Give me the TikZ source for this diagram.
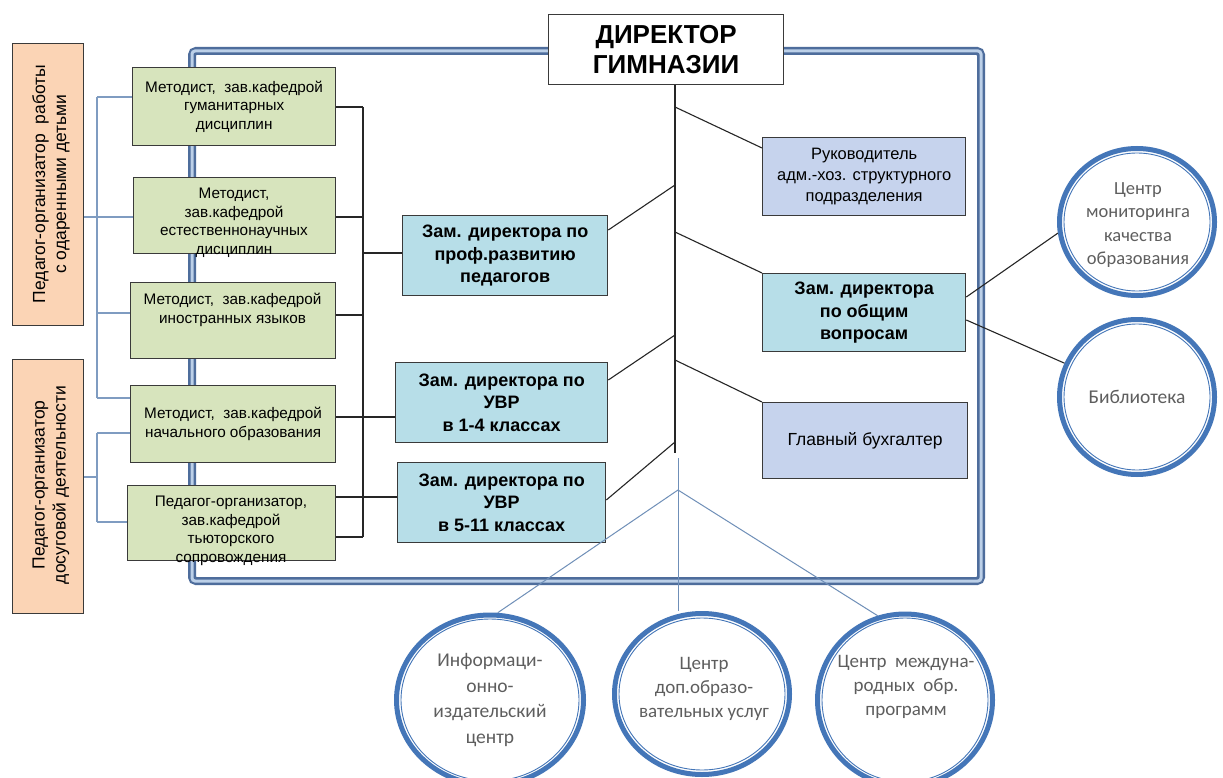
\documentclass[tikz,border=0pt]{standalone}
\usepackage{fontspec}
\setmainfont{Liberation Sans}
\newfontfamily\carl{Carlito}
\usetikzlibrary{shapes.geometric}
\definecolor{greenF}{HTML}{D7E4BD}
\definecolor{blueF}{HTML}{B7DEE8}
\definecolor{lavF}{HTML}{C6D3ED}
\definecolor{orangeF}{HTML}{FBD4B5}
\definecolor{frameD}{HTML}{4E6D9C}
\definecolor{frameL}{HTML}{BCD0E8}
\definecolor{circB}{HTML}{4476B8}
\definecolor{leftL}{HTML}{7F9CC1}
\definecolor{botL}{HTML}{6F8FB8}
\definecolor{boxL}{HTML}{3A3A3A}
\definecolor{circT}{HTML}{5E5E5E}
\begin{document}
\begin{tikzpicture}[x=1pt,y=-1pt,
  box/.style={draw=boxL, line width=1.3pt, inner sep=0pt, anchor=north west, align=center},
  gbox/.style={box, fill=greenF, font=\fontsize{15.3}{18.5}\selectfont},
  cbox/.style={box, fill=blueF, font=\bfseries\fontsize{18}{22.5}\selectfont},
  rbox/.style={box, fill=lavF, font=\fontsize{16.5}{21}\selectfont},
  obox/.style={box, fill=orangeF},
  otext/.style={rotate=90, align=center, font=\fontsize{17.5}{21}\selectfont},
  gtext/.style={align=center, inner sep=0pt, font=\fontsize{15.3}{18.5}\selectfont},
  ctext/.style={align=center, inner sep=0pt, text=circT, font=\carl\fontsize{19}{24}\selectfont},
  ring/.style={ellipse, draw=circB, line width=5pt, fill=white, inner sep=0pt, align=center, text=circT, font=\carl\fontsize{19.5}{25.5}\selectfont},
  blk/.style={draw=black!85, line width=1.1pt},
  lft/.style={draw=leftL, line width=1.1pt},
  bot/.style={draw=botL, line width=1pt}
]
\useasboundingbox (0,0) rectangle (1223,778);
\fill[white] (0,0) rectangle (1223,778);

% frame
\draw[line width=8pt, frameD, rounded corners=4pt] (192,51) rectangle (981,581);
\draw[line width=3pt, frameL, rounded corners=3pt] (192,51) rectangle (981,581);

% junction coordinates on main line
\coordinate (mvbot) at (675,453);
\coordinate (j1) at (675,107);
\coordinate (j2) at (675,185);
\coordinate (j3) at (675,232);
\coordinate (j4) at (675,335);
\coordinate (j5) at (675,360);
\coordinate (j6) at (675,442);
\coordinate (btop) at (678,458);
\coordinate (apex) at (678,490);
% bracket coordinates
\coordinate (br1) at (363,107);
\coordinate (br2) at (363,217);
\coordinate (brz) at (363,253);
\coordinate (br3) at (363,315);
\coordinate (br4) at (363,417);
\coordinate (br5) at (363,497);
\coordinate (br6) at (363,537);
% left grey-blue coordinates
\coordinate (la1) at (97,97);
\coordinate (la2) at (97,217);
\coordinate (la3) at (97,313);
\coordinate (la4) at (97,398);
\coordinate (lb1) at (97,433);
\coordinate (lb2) at (97,477);
\coordinate (lb3) at (97,522);

% director
\node[box, fill=white, line width=1.2pt, minimum width=235pt, minimum height=70pt,
      font=\bfseries\fontsize{26}{30}\selectfont] (dir) at (548,14) {ДИРЕКТОР\\ГИМНАЗИИ};

% green boxes
\node[gbox, minimum width=203pt, minimum height=78pt] (g1) at (132,67) {Методист,~ зав.кафедрой\\гуманитарных\\дисциплин};
\node[gbox, minimum width=202pt, minimum height=76pt] (g2) at (133,177) {};
\node[gbox, minimum width=205pt, minimum height=76pt] (g3) at (130,282) {};
\node[gbox, minimum width=205pt, minimum height=77pt] (g4) at (130,385) {Методист,~ зав.кафедрой\\начального образования};
\node[gbox, minimum width=208pt, minimum height=75pt] (g5) at (127,485) {};
\node[gtext] (g2t) at (234,223) {Методист,\\зав.кафедрой\\естественнонаучных\\дисциплин};
\node[gtext] (g3t) at (232.5,310) {Методист,~ зав.кафедрой\\иностранных языков};
\node[gtext] (g5t) at (231,531) {Педагог-организатор,\\зав.кафедрой\\тьюторского\\сопровождения};

% orange boxes
\node[obox, minimum width=71pt, minimum height=282pt] (oA) at (12,43) {};
\node[obox, minimum width=71pt, minimum height=254pt] (oB) at (12,359) {};
\node[otext] (oAt) at (51,184) {Педагог-организатор~ работы\\с одаренными детьми};
\node[otext] (oBt) at (51,485) {Педагог-организатор\\досуговой деятельности};

% center boxes
\node[cbox, minimum width=205pt, minimum height=80pt] (zp) at (402,215) {Зам. директора по\\проф.развитию\\педагогов};
\node[cbox, minimum width=212pt, minimum height=80pt] (u1) at (395,362) {Зам. директора по\\УВР\\в 1-4 классах};
\node[cbox, minimum width=208pt, minimum height=80pt] (u2) at (397,462) {Зам. директора по\\УВР\\в 5-11 классах};

% right boxes
\node[rbox, minimum width=203pt, minimum height=78pt] (rk) at (762,137) {Руководитель\\адм.-хоз. структурного\\подразделения};
\node[cbox, minimum width=203pt, minimum height=78pt] (zo) at (762,273) {Зам. директора\\по общим\\вопросам};
\node[rbox, minimum width=205pt, minimum height=76pt, font=\fontsize{17.5}{21}\selectfont] (gb) at (762,402) {Главный бухгалтер};

% circles
\node[ring, minimum width=155pt, minimum height=147pt] (c1) at (1137,222) {};
\node[ctext, font=\carl\fontsize{18.5}{23.5}\selectfont] (c1t) at (1138,225) {Центр\\мониторинга\\качества\\образования};
\node[ring, minimum width=155pt, minimum height=155pt] (c2) at (1137,397) {Библиотека};
\node[ring, minimum width=187pt, minimum height=170pt] (c3) at (490,700) {Информаци-\\онно-\\издательский\\центр};
\node[ring, minimum width=175pt, minimum height=161pt] (c4) at (702,694) {};
\node[ctext] (c4t) at (704,689) {Центр\\доп.образо-\\вательных услуг};
\node[ring, minimum width=175pt, minimum height=172pt] (c5) at (905,700) {};
\node[ctext] (c5t) at (906,687) {Центр~ междуна-\\родных~ обр.\\программ};
\foreach \n/\rx/\ry in {c1/73/69, c2/73/73, c3/89/81, c4/83/76, c5/83/82}
  \draw[circB, line width=0.9pt] (\n.center) ellipse [x radius=\rx pt, y radius=\ry pt];

% main black connectors
\draw[blk] (dir.south -| mvbot) -- (mvbot);
\draw[blk] (j1) -- ([yshift=-11pt]rk.north west);
\draw[blk] (j2) -- ([yshift=-15pt]zp.north east);
\draw[blk] (j3) -- (zo.north west);
\draw[blk] (j4) -- ([yshift=-18pt]u1.north east);
\draw[blk] (j5) -- (gb.north west);
\draw[blk] (j6) -- ([yshift=-38pt]u2.north east);
\draw[blk] ([yshift=-24pt]zo.north east) -- (c1.188);
\draw[blk] ([yshift=-47pt]zo.north east) -- (c2.155);

% left bracket
\draw[blk] (br1) -- (br6);
\draw[blk] (g1.east |- br1) -- (br1);
\draw[blk] (g2.east |- br2) -- (br2);
\draw[blk] (g3.east |- br3) -- (br3);
\draw[blk] (g4.east |- br4) -- (u1.west |- br4);
\draw[blk] (g5.east |- br5) -- (u2.west |- br5);
\draw[blk] (g5.east |- br6) -- (br6);
\draw[blk] (brz) -- (zp.west |- brz);

% left grey-blue connectors
\draw[lft] (la1) -- (la4);
\draw[lft] (la1) -- (g1.west |- la1);
\draw[lft] (oA.east |- la2) -- (g2.west |- la2);
\draw[lft] (la3) -- (g3.west |- la3);
\draw[lft] (la4) -- (g4.west |- la4);
\draw[lft] (lb1) -- (lb3);
\draw[lft] (lb1) -- (g4.west |- lb1);
\draw[lft] (lb3) -- (g5.west |- lb3);
\draw[lft] (oB.east |- lb2) -- (lb2);

% bottom blue connectors
\draw[bot] (btop) -- (btop |- c4.north);
\draw[bot] (apex) -- (c3.85);
\draw[bot] (apex) -- (c5.108);
\end{tikzpicture}
\end{document}
